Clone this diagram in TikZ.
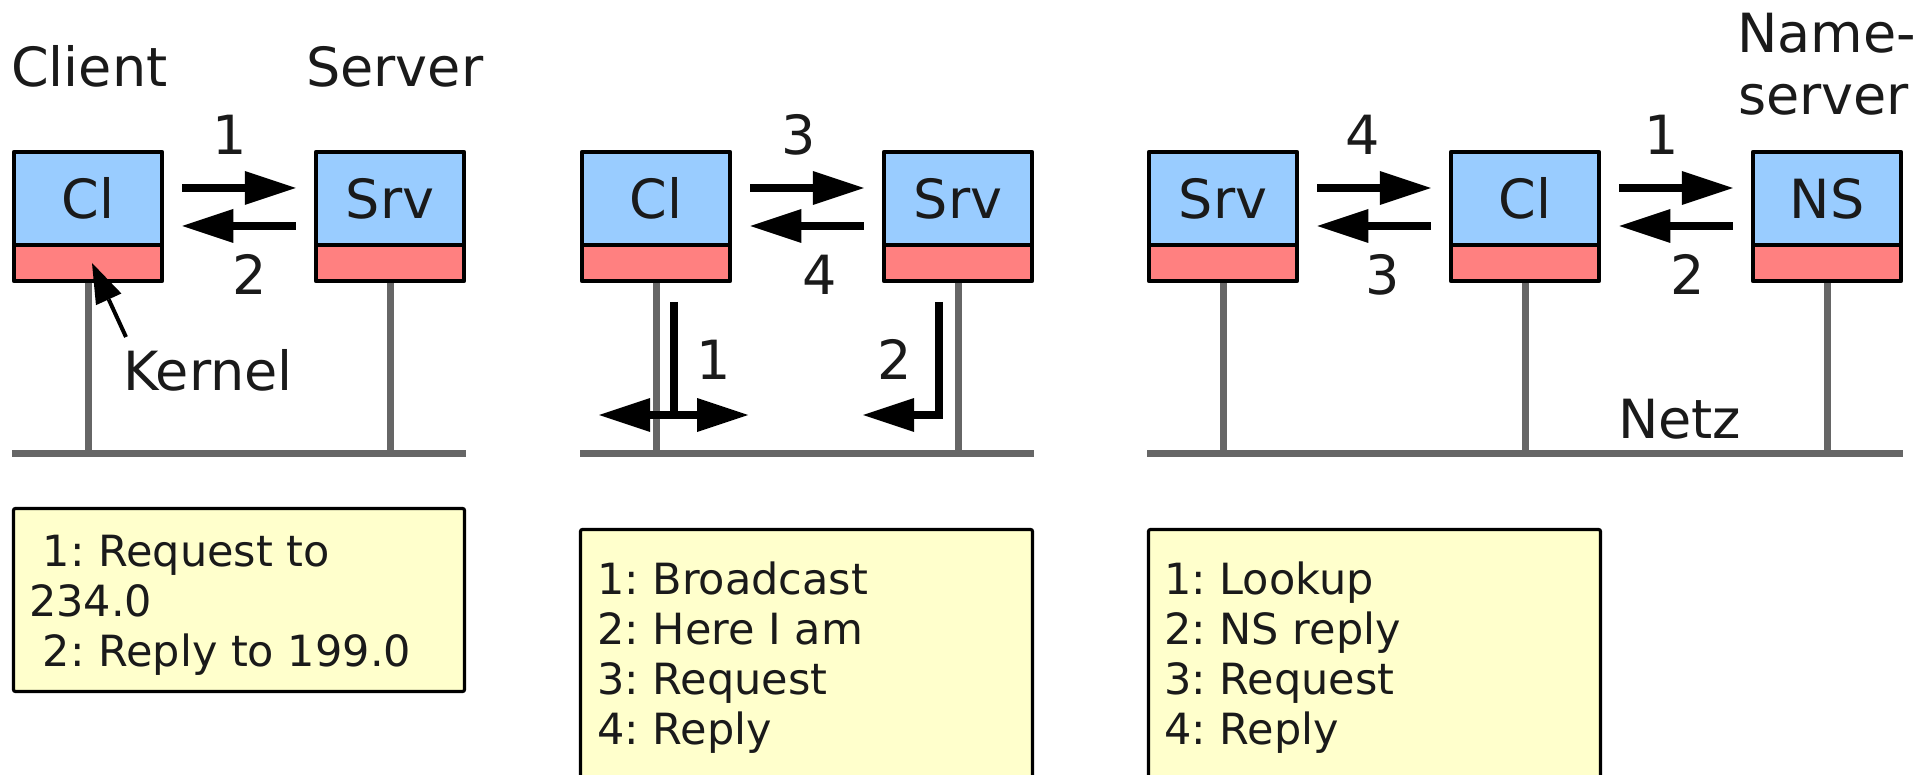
\documentclass[tikz,border=0pt]{standalone}
\usepackage{fontspec}
\setmainfont{DejaVu Sans}
\frenchspacing
\usetikzlibrary{arrows.meta,backgrounds}
\definecolor{hostblue}{HTML}{99CCFF}
\definecolor{kernred}{HTML}{FF8080}
\definecolor{noteyellow}{HTML}{FFFFCC}
\definecolor{netgray}{HTML}{666666}
\definecolor{ink}{HTML}{1A1A1A}
\tikzset{
  host/.style={draw=black, line width=4pt, line join=round, fill=hostblue, minimum width=148.5pt,
    minimum height=93pt, inner sep=0pt, outer sep=0pt, anchor=north},
  kern/.style={draw=black, line width=4pt, line join=round, fill=kernred, minimum width=148.5pt,
    minimum height=36pt, inner sep=0pt, outer sep=0pt, anchor=north},
  msg/.style={draw=black, line width=8pt, line join=miter,
    -{Triangle[length=51pt,width=34pt,line width=0pt]}},
  msgboth/.style={draw=black, line width=8pt,
    {Triangle[length=51pt,width=34pt,line width=0pt]}-{Triangle[length=51pt,width=34pt,line width=0pt]}},
  blackline/.style={draw=black, line width=8pt},
  kernarrow/.style={draw=black, line width=4pt, -{Triangle[length=40pt,width=28pt,line width=0pt]}},
  net/.style={draw=netgray, line width=7pt},
  note/.style={draw=black, line width=3.2pt, fill=noteyellow, rounded corners=2pt,
    inner sep=0pt, outer sep=0pt, anchor=north west},
  notetext/.style={font=\fontsize{43}{50}\selectfont, align=left, inner sep=0pt, anchor=north west},
  lbl/.style={inner sep=0pt, anchor=base west},
  num/.style={inner sep=0pt, anchor=base},
}
\begin{document}
\begin{tikzpicture}[x=1pt, y=-1pt, font=\fontsize{54}{64}\selectfont, text=ink]
\useasboundingbox (0,0) rectangle (1932,775);

% ---------- Panel 1 ----------
\node[lbl] (client) at (11,87) {Client};
\node[lbl] (server) at (306,87) {Server};
\node[host] (cl1) at (88,152) {Cl};
\node[kern] (cl1k) at (cl1.south) {};
\node[host] (srv1) at (390,152) {Srv};
\node[kern] (srv1k) at (srv1.south) {};
\draw[msg] ([xshift=20pt,yshift=10.5pt]cl1.east) -- ([xshift=-20pt,yshift=10.5pt]srv1.west);
\draw[msg] ([xshift=-20pt,yshift=-27.5pt]srv1.west) -- ([xshift=20pt,yshift=-27.5pt]cl1.east);
\node[num] (n11) at (230,155) {1};
\node[num] (n12) at (250,295) {2};
\node[lbl] (kernel) at (123,390) {Kernel};
\coordinate (kfrom) at (126,337);
\draw[kernarrow] (kfrom) -- ([xshift=4pt]cl1k.center);
\coordinate (b1l) at (12,453);
\coordinate (b1r) at (466,453);

\node[note, minimum width=451pt, minimum height=183pt] (note1) at (13.5,508.5) {};
\node[notetext] (note1t) at (29,534.7) {\mbox{}\ 1: Request to\\234.0\\\mbox{}\ 2: Reply to 199.0};

% ---------- Panel 2 ----------
\node[host] (cl2) at (656,152) {Cl};
\node[kern] (cl2k) at (cl2.south) {};
\node[host] (srv2) at (958,152) {Srv};
\node[kern] (srv2k) at (srv2.south) {};
\draw[msg] ([xshift=20pt,yshift=10.5pt]cl2.east) -- ([xshift=-20pt,yshift=10.5pt]srv2.west);
\draw[msg] ([xshift=-20pt,yshift=-27.5pt]srv2.west) -- ([xshift=20pt,yshift=-27.5pt]cl2.east);
\node[num] (n23) at (799,155) {3};
\node[num] (n24) at (820,295) {4};
\coordinate (bcs) at (674,302);
\coordinate (bcc) at (674,415);
\coordinate (bcl) at (599,415);
\coordinate (bcr) at (748,415);
\draw[blackline] (bcs) -- (bcc);
\draw[msgboth] (bcl) -- (bcr);
\coordinate (has) at (939,302);
\coordinate (hat) at (863,415);
\draw[msg] (has) |- (hat);
\node[num] (n21) at (714,379) {1};
\node[num] (n22) at (895,379) {2};
\coordinate (b2l) at (580,453);
\coordinate (b2r) at (1034,453);

\node[note, minimum width=452pt, minimum height=249pt] (note2) at (580.5,529.5) {};
\node[notetext] (note2t) at (597,561.3) {1: Broadcast\\2: Here I am\\3: Request\\4: Reply};

% ---------- Panel 3 ----------
\node[lbl] (name1) at (1737,53) {Name-};
\node[lbl] (name2) at (1738,115) {server};
\node[host] (srv3) at (1223,152) {Srv};
\node[kern] (srv3k) at (srv3.south) {};
\node[host] (cl3) at (1525,152) {Cl};
\node[kern] (cl3k) at (cl3.south) {};
\node[host] (ns3) at (1827,152) {NS};
\node[kern] (ns3k) at (ns3.south) {};
\draw[msg] ([xshift=20pt,yshift=10.5pt]srv3.east) -- ([xshift=-20pt,yshift=10.5pt]cl3.west);
\draw[msg] ([xshift=-20pt,yshift=-27.5pt]cl3.west) -- ([xshift=20pt,yshift=-27.5pt]srv3.east);
\draw[msg] ([xshift=20pt,yshift=10.5pt]cl3.east) -- ([xshift=-20pt,yshift=10.5pt]ns3.west);
\draw[msg] ([xshift=-20pt,yshift=-27.5pt]ns3.west) -- ([xshift=20pt,yshift=-27.5pt]cl3.east);
\node[num] (n34) at (1363,155) {4};
\node[num] (n33) at (1383,295) {3};
\node[num] (n31) at (1662,155) {1};
\node[num] (n32) at (1688,295) {2};
\node[lbl] (netz) at (1618,438) {Netz};
\coordinate (b3l) at (1147,453);
\coordinate (b3r) at (1903,453);

\node[note, minimum width=452pt, minimum height=249pt] (note3) at (1148.5,529.5) {};
\node[notetext] (note3t) at (1164,561.3) {1: Lookup\\2: NS reply\\3: Request\\4: Reply};

% ---------- network lines and page background ----------
\begin{scope}[on background layer]
\fill[white] (0,0) rectangle (1932,775);
\draw[net] (b1l) -- (b1r);
\draw[net] (cl1k.south) -- (cl1k.south |- b1l);
\draw[net] (srv1k.south) -- (srv1k.south |- b1l);
\draw[net] (b2l) -- (b2r);
\draw[net] (cl2k.south) -- (cl2k.south |- b2l);
\draw[net] (srv2k.south) -- (srv2k.south |- b2l);
\draw[net] (b3l) -- (b3r);
\draw[net] (srv3k.south) -- (srv3k.south |- b3l);
\draw[net] (cl3k.south) -- (cl3k.south |- b3l);
\draw[net] (ns3k.south) -- (ns3k.south |- b3l);
\end{scope}
\end{tikzpicture}
\end{document}
